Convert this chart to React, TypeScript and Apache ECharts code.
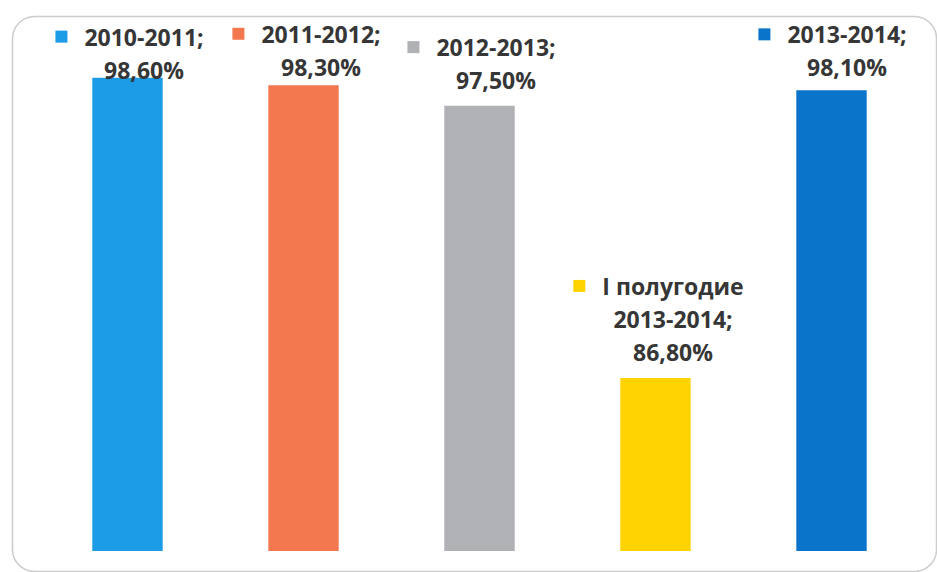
import React, { useEffect, useRef } from "react";
import * as echarts from "echarts";

// Data
const categories: string[] = [
  "2010-2011",
  "2011-2012",
  "2012-2013",
  "I полугодие\n2013-2014",
  "2013-2014",
];
const values: number[] = [98.6, 98.3, 97.5, 86.8, 98.1];

// Styles
const barColors: string[] = ["#1C9BE6", "#F4784F", "#B0B1B5", "#FFD300", "#0A74CB"];
const labelOffsets: number[][] = [
  [2, 8.5],
  [3, -2],
  [2, -9],
  [3, -9.5],
  [1, -6.5],
];

const FONT = "'Open Sans', 'Noto Sans', sans-serif";
const TEXT_COLOR = "#363636";

function formatValue(v: number): string {
  return v.toFixed(2).replace(".", ",") + "%";
}

export default function App() {
  const ref = useRef<HTMLDivElement>(null);

  useEffect(() => {
    if (!ref.current) return;
    const chart = echarts.init(ref.current, undefined, { renderer: "svg" });

    const data = values.map((v, i) => {
      const lines = (categories[i] + ";").split("\n");
      lines.push(formatValue(v));
      const text = lines
        .map((ln, k) => (k === 0 ? `{m|}{g|}{t|${ln}}` : `{s|}{t|${ln}}`))
        .join("\n");
      return {
        value: v,
        itemStyle: { color: barColors[i] },
        label: {
          show: true,
          position: "top",
          distance: 0,
          offset: labelOffsets[i],
          formatter: () => text,
          rich: {
            m: { width: 12, height: 12, backgroundColor: barColors[i], lineHeight: 33 },
            g: { width: 17, height: 12, lineHeight: 33 },
            s: { width: 29, height: 12, lineHeight: 33 },
            t: {
              fontFamily: FONT,
              fontSize: 23,
              fontWeight: 700,
              color: TEXT_COLOR,
              lineHeight: 33,
            },
          },
        },
      };
    });

    chart.setOption({
      animation: false,
      backgroundColor: "#ffffff",
      grid: { left: 39.5, right: 17.5, top: 42, bottom: 21, containLabel: false },
      xAxis: {
        type: "category",
        data: categories,
        show: false,
      },
      yAxis: {
        type: "value",
        min: 80,
        max: 100,
        show: false,
        splitLine: { show: false },
      },
      graphic: [
        {
          type: "rect",
          left: 10,
          top: 14,
          shape: { width: 924, height: 555, r: 22 },
          style: { fill: "none", stroke: "#cccccc", lineWidth: 1.5 },
          silent: true,
          z: -1,
        },
      ],
      series: [
        {
          type: "bar",
          barWidth: "40%",
          data,
        },
      ],
    });

    return () => chart.dispose();
  }, []);

  return (
    <div
      ref={ref}
      style={{ position: "fixed", left: 0, top: 0, width: 937, height: 572 }}
    />
  );
}
